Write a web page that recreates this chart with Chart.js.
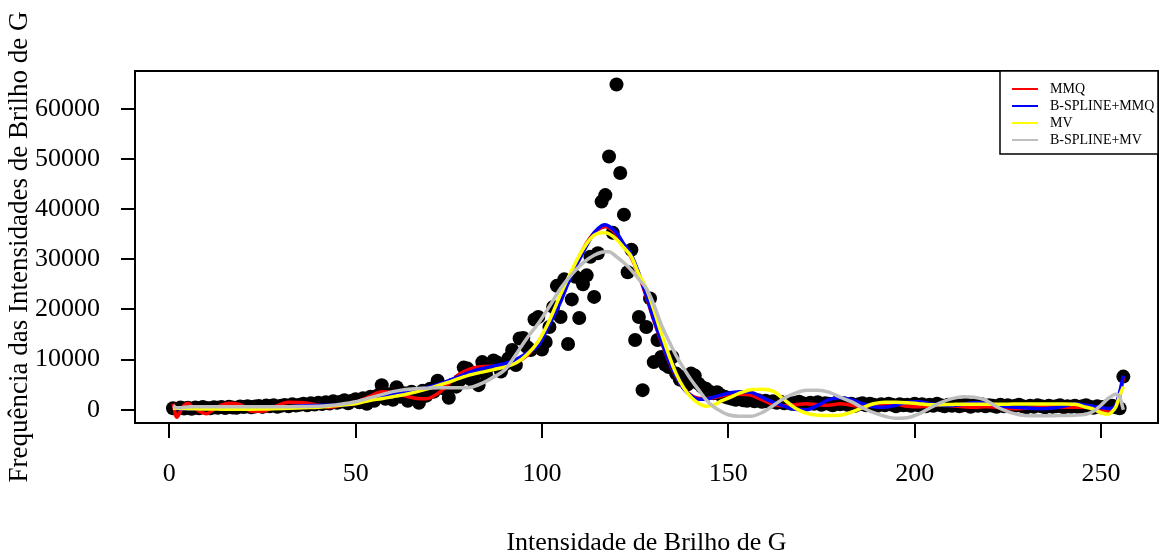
<!DOCTYPE html>
<html>
<head>
<meta charset="utf-8">
<script src="https://cdn.jsdelivr.net/npm/chart.js@4/dist/chart.umd.min.js"></script>
<style>
  html, body { margin: 0; padding: 0; background: #fff; }
  canvas { display: block; }
</style>
</head>
<body>
<canvas id="myChart" width="1165" height="555"></canvas>
<script>
// observed frequencies, x = 1..256
const freq = [
  300, 150, 420, 250, 380, 200, 450, 300, 520, 350,
  280, 480, 400, 560, 330, 600, 450, 380, 650, 520,
  700, 480, 620, 750, 560, 820, 680, 900, 600, 780,
  950, 700, 1100, 850, 1000, 1200, 900, 1300, 1050, 1400,
  1150, 1500, 1250, 1700, 1400, 1600, 1900, 1300, 1800, 2100,
  1500, 2300, 1200, 2600, 1800, 2900, 4900, 2200, 3100, 2000,
  4500, 2600, 3300, 1800, 3600, 3000, 1400, 3800, 2800, 4200,
  3600, 5800, 4400, 4100, 2400, 5000, 4600, 5900, 8400, 8200,
  6000, 7200, 4900, 9500, 7000, 8800, 9800, 9400, 7600, 9000,
  10200, 11900, 8900, 14200, 14300, 12500, 11900, 18000, 18500, 12000,
  13500, 16500, 20500, 24700, 18500, 26000, 13100, 22000, 26500, 18300,
  25000, 26800, 30500, 22500, 31200, 41500, 42800, 50500, 35300, 64860,
  47200, 38900, 27400, 31900, 13900, 18500, 3900, 16500, 22200, 9500,
  13900, 10500, 9000, 8500, 10500, 7200, 6000, 6500, 5000, 7200,
  6800, 5200, 4500, 4200, 3600, 3300, 3500, 2900, 2600, 2400,
  2200, 2000, 2300, 1900, 1800, 2100, 1700, 1900, 1600, 1800,
  1500, 1700, 1400, 1600, 1300, 1500, 1200, 1400, 1600, 1300,
  1100, 1400, 1200, 1500, 1000, 1300, 1200, 900, 1400, 1100,
  1300, 1000, 1200, 800, 1100, 1300, 900, 1200, 1000, 800,
  1100, 900, 1200, 1000, 700, 1100, 900, 1000, 800, 1200,
  900, 1100, 700, 1000, 800, 1200, 900, 700, 1000, 800,
  1100, 700, 900, 1000, 600, 900, 800, 1100, 700, 900,
  800, 600, 1000, 700, 900, 600, 800, 1000, 700, 500,
  800, 600, 900, 700, 500, 800, 600, 700, 900, 500,
  700, 600, 800, 500, 700, 900, 600, 400, 700, 500,
  600, 400, 800, 500, 300, 6600
]

// x positions where the fitted curves were read
const fitX = [
  1, 2, 3, 4, 5, 6, 7, 8, 10, 12, 14, 16, 18, 20, 22,
  25, 28, 32, 36, 40, 43, 46, 50, 54, 57, 60, 63, 66, 69, 72, 75, 78, 81, 84, 87, 90, 93, 96, 99, 102, 105, 108, 111, 114,
  116, 117, 118, 120, 122, 124, 126, 128, 130, 132, 134, 136, 138, 140, 142, 144, 146, 148, 150,
  153, 156, 159, 162, 165, 168, 171, 174, 177, 180, 183, 186, 189, 192, 195, 198, 201, 204, 207, 210, 213, 216, 219, 222, 225, 228, 231, 234, 237, 240, 243, 246,
  248, 250, 252, 253, 254, 255, 256
]

const mmq = [
  1200, -1500, -300, 900, 1300, 700, 200, -300, -800, 100, 900, 1300, 1200, 700, -300,
  -300, 500, 1500, 1400, 900, 500, 900, 1500, 2700, 3600, 3400, 2800, 2300, 2200, 3200, 5200, 7200, 8200, 8600, 8700, 8800, 9400, 10800, 13500, 17500, 22500, 27500, 32000, 35300,
  36300, 36500, 36300, 35000, 32800, 30300, 26800, 22500, 17800, 13600, 9700, 6600, 4300, 2900, 2300, 2200, 2400, 2700, 3000,
  3100, 2900, 2000, 1100, 800, 1000, 1200, 1000, 900, 1200, 900, 600, 800, 1200, 1100, 700, 600, 800, 900, 800, 600, 500, 600, 500, 300, 200, 400, 600, 600, 500, 500, 500,
  300, -100, -200, 100, 700, 2500, 6500
]

const bsplineMmq = [
  400, 300, 200, 200, 200, 200, 200, 200, 200, 250, 300, 350, 350, 400, 400,
  450, 500, 600, 800, 850, 900, 900, 1300, 2200, 2800, 3200, 3500, 3900, 4400, 5000, 5800, 6700, 7600, 8200, 8700, 9200, 10000, 11300, 12800, 17000, 21500, 27000, 31300, 35300,
  36700, 36900, 36600, 35300, 33000, 30800, 27200, 22800, 18000, 13800, 9800, 6700, 4200, 2800, 2100, 2100, 2500, 2900, 3300,
  3600, 3500, 2500, 1500, 700, 100, 0, 900, 2000, 2400, 2000, 1200, 600, 500, 900, 1500, 1600, 1200, 900, 850, 1100, 1400, 1300, 900, 600, 450, 300, 200, 350, 700, 1200, 900,
  650, 450, 250, 300, 1000, 3500, 6800
]

const mv = [
  300, 300, 250, 250, 200, 200, 200, 150, 150, 150, 100, 100, 100, 100, 100,
  150, 200, 300, 400, 500, 700, 900, 1200, 1900, 2200, 2600, 3000, 3500, 4100, 4800, 5500, 6300, 7000, 7500, 8000, 8500, 9300, 11000, 13600, 17800, 23000, 27800, 32000, 34800,
  35300, 35300, 35100, 34000, 32300, 30500, 27000, 24200, 20000, 15300, 11000, 7200, 4400, 2500, 1300, 700, 900, 1700, 2300,
  3300, 4000, 4100, 3700, 2000, 300, -700, -1100, -1150, -1100, -500, 400, 1200, 1500, 1500, 1400, 1200, 1000, 1000, 1050, 1100, 1100, 1100, 1100, 1100, 1150, 1150, 1150, 1150, 1150, 1100, 500,
  100, -600, -900, -400, 600, 2800, 4600
]

const bsplineMv = [
  800, 400, 400, 500, 550, 600, 600, 600, 600, 600, 600, 600, 600, 600, 600,
  600, 600, 600, 650, 700, 850, 1100, 1600, 2400, 3000, 3600, 4000, 4200, 4300, 4400, 4400, 4400, 4500, 5300, 6500, 7900, 11000, 14300, 17200, 20600, 24200, 27000, 29300, 30800,
  31400, 31500, 31500, 30500, 29300, 27800, 26000, 24200, 21000, 17000, 13800, 10800, 8300, 6000, 4000, 2000, 600, -300, -1000,
  -1300, -1300, -600, 800, 2300, 3300, 3900, 3900, 3500, 2500, 1600, 400, -600, -1300, -1700, -1600, -900, 300, 1400, 2200, 2600, 2500, 1900, 600, -400, -1000, -1200, -1200, -1200, -1150, -1100, -900,
  -300, 900, 2300, 2800, 3100, 2600, 0
]

const seriesNames = ['MMQ', 'B-SPLINE+MMQ', 'MV', 'B-SPLINE+MV']
const seriesColors = ['#ff0000', '#0000ff', '#ffff00', '#bebebe']
const xTickValues = [0, 50, 100, 150, 200, 250]
const yTickValues = [0, 10000, 20000, 30000, 40000, 50000, 60000]

const serif = "'Liberation Serif', 'Times New Roman', serif"

const points = freq.map((v, i) => ({ x: i + 1, y: v }))
const fits = [mmq, bsplineMmq, mv, bsplineMv]

const lineSets = fits.map((vals, k) => ({
    type: 'line',
    label: seriesNames[k],
    data: vals.map((v, i) => ({ x: fitX[i], y: v })),
    borderColor: seriesColors[k],
    backgroundColor: seriesColors[k],
    borderWidth: 3.5,
    pointRadius: 0,
    fill: false,
    showLine: true,
    cubicInterpolationMode: 'monotone',
    order: 4 - k
}))

// box round the plot region
const boxPlugin = {
    id: 'box',
    afterDatasetsDraw(chart) {
        const a = chart.chartArea
        const ctx = chart.ctx
        ctx.save()
        ctx.strokeStyle = '#000'
        ctx.lineWidth = 2
        ctx.strokeRect(a.left, a.top, a.right - a.left, a.bottom - a.top)
        ctx.restore()
    }
}

// R style legend in the top right corner
const legendPlugin = {
    id: 'rlegend',
    afterDraw(chart) {
        const a = chart.chartArea
        const ctx = chart.ctx
        const w = 158, h = 83
        const x0 = a.right - w, y0 = a.top
        ctx.save()
        ctx.fillStyle = '#fff'
        ctx.fillRect(x0, y0, w, h)
        ctx.strokeStyle = '#000'
        ctx.lineWidth = 1.5
        ctx.strokeRect(x0, y0, w, h)
        ctx.font = '14px ' + serif
        ctx.textBaseline = 'middle'
        chart.data.datasets.filter(d => d.type === 'line').forEach((d, i) => {
            const y = y0 + 18 + i * 17
            ctx.strokeStyle = d.borderColor
            ctx.lineWidth = 2
            ctx.beginPath()
            ctx.moveTo(x0 + 12, y)
            ctx.lineTo(x0 + 38, y)
            ctx.stroke()
            ctx.fillStyle = '#000'
            ctx.fillText(d.label, x0 + 50, y)
        })
        ctx.restore()
    }
}

const ctx = document.getElementById('myChart')

new Chart(ctx, {
    type: 'scatter',
    data: {
        datasets: [
            {
                label: 'freq',
                data: points,
                backgroundColor: '#000',
                borderColor: '#000',
                borderWidth: 0,
                pointRadius: 7,
                pointHoverRadius: 7,
                order: 5
            },
            ...lineSets
        ]
    },
    options: {
        responsive: false,
        animation: false,
        layout: { padding: { top: 71, right: 2, left: 0, bottom: 0 } },
        plugins: {
            legend: { display: false },
            tooltip: { enabled: false }
        },
        scales: {
            x: {
                type: 'linear',
                min: -9.2,
                max: 265.3,
                afterBuildTicks: scale => { scale.ticks = xTickValues.map(v => ({ value: v })) },
                afterFit: scale => { scale.height = 132 },
                border: { display: false },
                grid: { drawOnChartArea: false, drawTicks: true, tickLength: 15, color: '#000', lineWidth: 2 },
                ticks: { color: '#000', font: { family: serif, size: 26 }, padding: 21, maxRotation: 0, callback: v => String(v) },
                title: {
                    display: true,
                    text: 'Intensidade de Brilho de G',
                    color: '#000',
                    font: { family: serif, size: 26, lineHeight: 0.92 },
                    padding: 0
                }
            },
            y: {
                type: 'linear',
                min: -2650,
                max: 67550,
                afterBuildTicks: scale => { scale.ticks = yTickValues.map(v => ({ value: v })) },
                afterFit: scale => { scale.width = 135 },
                border: { display: false },
                grid: { drawOnChartArea: false, drawTicks: true, tickLength: 14, color: '#000', lineWidth: 2 },
                ticks: { color: '#000', font: { family: serif, size: 26 }, padding: 21, callback: v => String(v) },
                title: {
                    display: true,
                    text: 'Frequência das Intensidades de Brilho de G',
                    color: '#000',
                    font: { family: serif, size: 27 },
                    padding: { top: 4, bottom: 0 }
                }
            }
        }
    },
    plugins: [boxPlugin, legendPlugin]
})
</script>
</body>
</html>
